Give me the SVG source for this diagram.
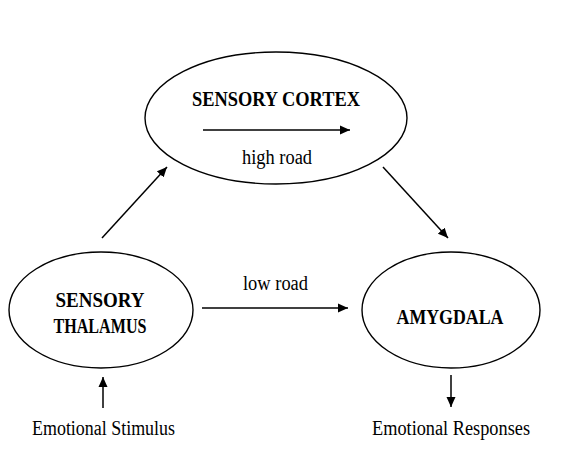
<svg xmlns="http://www.w3.org/2000/svg" width="562" height="454" viewBox="0 0 562 454">
<style>
.node{fill:#fff;stroke:#000;stroke-width:1.4}
.b{font-family:"Liberation Serif","Times New Roman",serif;font-weight:bold;font-size:20px;text-anchor:middle;fill:#000}
.r{font-family:"Liberation Serif","Times New Roman",serif;font-size:20px;text-anchor:middle;fill:#000}
.edge{stroke:#000;stroke-width:1.5;fill:none;marker-end:url(#ah)}
</style>
<defs>
<marker id="ah" viewBox="0 0 10 10" refX="10" refY="5" markerWidth="10" markerHeight="10" markerUnits="userSpaceOnUse" orient="auto">
<path d="M0,0.5 L10,5 L0,9.5 Z" fill="#000"/>
</marker>
</defs>
<rect width="562" height="454" fill="#fff"/>
<g id="cortex">
<ellipse class="node" cx="276" cy="118" rx="131" ry="66"/>
<text class="b" x="276" y="106" textLength="168" lengthAdjust="spacingAndGlyphs">SENSORY CORTEX</text>
<text class="r" x="277" y="164" textLength="70" lengthAdjust="spacingAndGlyphs">high road</text>
</g>
<g id="thalamus">
<ellipse class="node" cx="101" cy="310" rx="92" ry="58"/>
<text class="b" x="100" y="307" textLength="89" lengthAdjust="spacingAndGlyphs">SENSORY</text>
<text class="b" x="100" y="333" textLength="93" lengthAdjust="spacingAndGlyphs">THALAMUS</text>
</g>
<g id="amygdala">
<ellipse class="node" cx="451" cy="310" rx="89" ry="58"/>
<text class="b" x="450" y="324" textLength="107" lengthAdjust="spacingAndGlyphs">AMYGDALA</text>
</g>
<g id="stimulus">
<text class="r" x="103.5" y="435" textLength="143" lengthAdjust="spacingAndGlyphs">Emotional Stimulus</text>
</g>
<g id="responses">
<text class="r" x="451" y="435" textLength="158" lengthAdjust="spacingAndGlyphs">Emotional Responses</text>
</g>
<g id="connectors">
<line class="edge" x1="203" y1="130" x2="350" y2="130"/>
<line class="edge" x1="102" y1="238" x2="167" y2="167"/>
<line class="edge" x1="383" y1="167" x2="448" y2="238"/>
<line class="edge" x1="202" y1="308" x2="348" y2="308"/>
<text class="r" x="275.5" y="290" textLength="65" lengthAdjust="spacingAndGlyphs">low road</text>
<line class="edge" x1="103" y1="408" x2="103" y2="377"/>
<line class="edge" x1="451" y1="375" x2="451" y2="407"/>
</g>
</svg>
